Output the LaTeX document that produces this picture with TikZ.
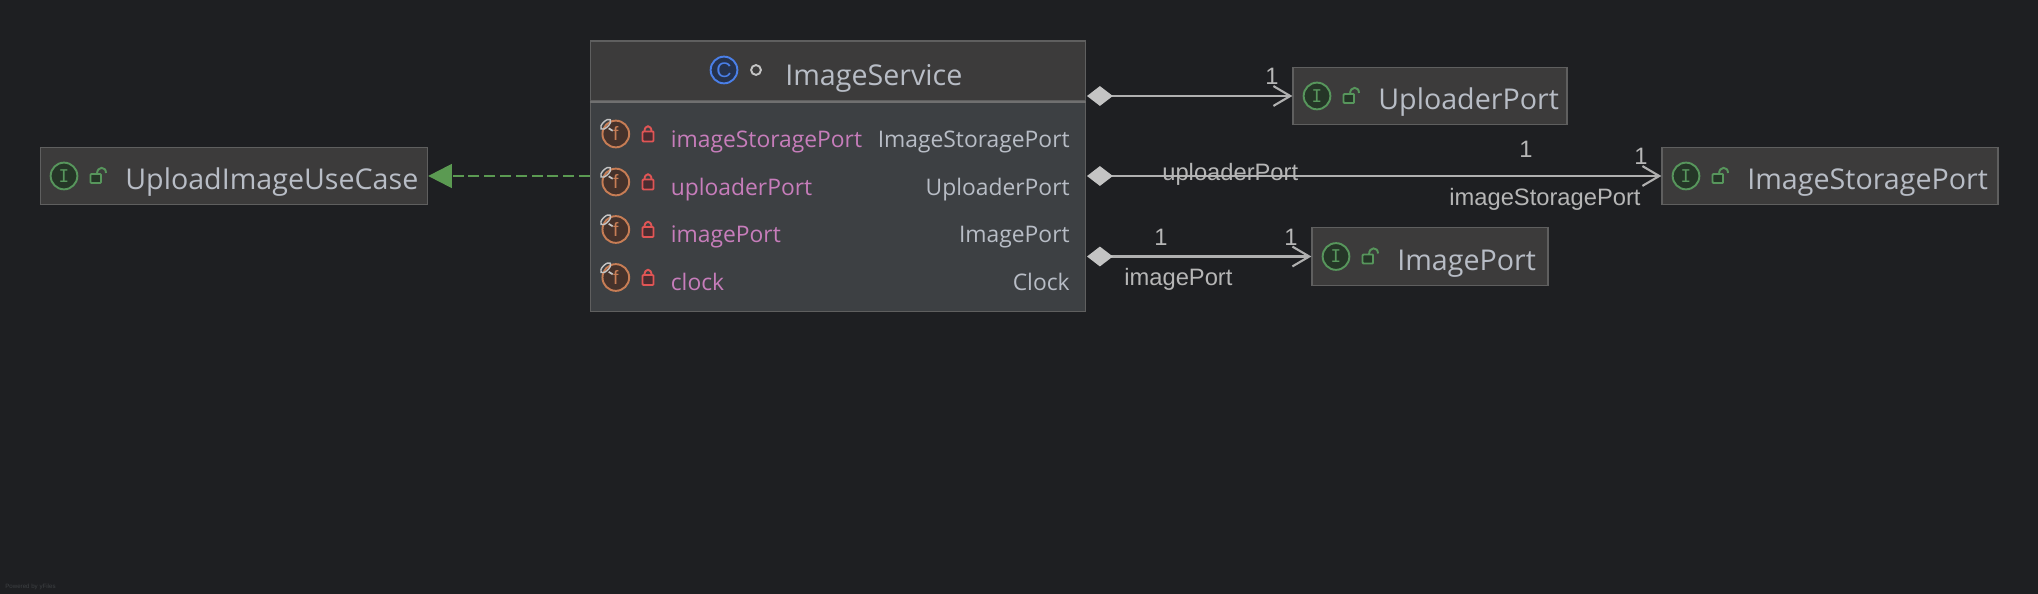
\documentclass[tikz,border=0pt]{standalone}
\usepackage{fontspec}
\usetikzlibrary{arrows.meta}
\usetikzlibrary{positioning}
\newfontfamily\uifont{Open Sans}
\newfontfamily\edgefont{Liberation Sans}
\newfontfamily\iconfont{DejaVu Sans Mono}
\definecolor{canvas}{HTML}{1E1F22}
\definecolor{headfill}{HTML}{3C3B3B}
\definecolor{bodyfill}{HTML}{3D4043}
\definecolor{boxline}{HTML}{5F5F5F}
\definecolor{dividerline}{HTML}{707070}
\definecolor{nametext}{HTML}{B8BDC6}
\definecolor{fieldtext}{HTML}{C77DBB}
\definecolor{edgeline}{HTML}{B0B0B0}
\definecolor{edgetext}{HTML}{B6B6B6}
\definecolor{tipfill}{HTML}{C4C4C4}
\definecolor{implgreen}{HTML}{5B9A52}
\definecolor{ifacegreen}{HTML}{57965C}
\definecolor{ifacefill}{HTML}{253627}
\definecolor{classblue}{HTML}{4A7FE8}
\definecolor{classfill}{HTML}{25324D}
\definecolor{fieldorange}{HTML}{C77D55}
\definecolor{fieldfill}{HTML}{45322B}
\definecolor{lockred}{HTML}{E05555}
\definecolor{lockfill}{HTML}{4A2C30}
\tikzstyle{classbox}=[rectangle,draw=boxline,line width=0.75pt,inner sep=0pt]
\tikzstyle{portname}=[anchor=base west,inner sep=0pt,text=nametext,font=\uifont\fontsize{16.3}{20}\selectfont]
\tikzstyle{rowtext}=[inner sep=0pt,font=\uifont\fontsize{13}{15}\selectfont]
\tikzstyle{edgelabel}=[inner sep=0pt,text=edgetext,font=\edgefont\fontsize{13.5}{16}\selectfont]
\tikzstyle{roundicon}=[circle,minimum size=15.2pt,inner sep=0pt,line width=1.1pt]
\tikzstyle{owned}=[draw=edgeline,line width=1.2pt,{Diamond[length=14.7pt,width=11.3pt,fill=tipfill,color=tipfill]}-{Straight Barb[length=9.6pt,width=11.3pt,line width=1.2pt]}]
\tikzset{
  lockshut/.pic={
    \draw[lockred,line width=1.1pt] (-3.5,-2.5) .. controls (-3.5,-9.5) and (3.5,-9.5) .. (3.5,-2.5);
    \draw[lockred,fill=lockfill,line width=1.1pt,rounded corners=0.5pt] (-5.5,-2.5) rectangle (5.5,7.5);
  },
  lockopen/.pic={
    \draw[ifacegreen,line width=1.1pt] (-1,-2) .. controls (-1,-10) and (8,-10) .. (8,-3);
    \draw[ifacegreen,fill=ifacefill,line width=1.1pt,rounded corners=0.5pt] (-7.5,-2) rectangle (3,7);
  },
  fieldleash/.pic={
    \draw[tipfill,line width=0.8pt,rotate=45] (0,0) ellipse [x radius=6.5,y radius=3];
    \draw[tipfill,line width=1pt] (3,4) -- (7,6.5);
  }
}

\begin{document}
\begin{tikzpicture}[x=0.02cm,y=-0.02cm]

  \def\u{0.02};
  \fill[canvas] (0,0) rectangle (2038,594);

  % the class
  \node[classbox,fill=headfill,minimum width=495*\u cm,minimum height=60*\u cm] (serviceHead) at (838,71) {};
  \node[classbox,fill=bodyfill,minimum width=495*\u cm,minimum height=210.5*\u cm] (serviceBody) at (838,206.25) {};
  \draw[dividerline,line width=1.1pt] (serviceHead.south west) -- (serviceHead.south east);
  \node[roundicon,draw=classblue,fill=classfill,text=classblue,font=\edgefont\fontsize{12}{12}\selectfont] (serviceIcon) at (724,70) {C};
  \node[circle,draw=tipfill,line width=1.1pt,minimum size=5.6pt,inner sep=0pt] (serviceDot) at (756,70) {};
  \node[portname] (serviceTitle) at (785,85.5) {ImageService};

  \foreach \y/\name/\type in {147.5/imageStoragePort/ImageStoragePort, 195.5/uploaderPort/UploaderPort, 243/imagePort/ImagePort, 291/clock/Clock}
  {
    \node[roundicon,draw=fieldorange,fill=fieldfill,text=fieldorange,font=\edgefont\fontsize{11}{12}\selectfont] (\name Icon) at (615.8,\y-13.5) {f};
    \pic at (605.7,\y-23.2) {fieldleash};
    \pic at (648,\y-13.5) {lockshut};
    \node[rowtext,anchor=base west,text=fieldtext] (\name Field) at (670.5,\y) {\name};
    \node[rowtext,anchor=base east,text=nametext] (\name Type) at (1070,\y) {\type};
  }

  % the interfaces
  \foreach \x/\y/\w/\h/\ix/\tx/\name/\label in {
      234/176/387/57/64/125/uploadImageUseCase/UploadImageUseCase,
      1430/96/274/57/1317/1378/uploaderNode/UploaderPort,
      1830/176/336/57/1686/1747/storageNode/ImageStoragePort,
      1430/256.5/236/58/1336/1397/imageNode/ImagePort}
  {
    \node[classbox,fill=headfill,minimum width=\w*\u cm,minimum height=\h*\u cm] (\name) at (\x,\y) {};
    \node[roundicon,draw=ifacegreen,fill=ifacefill,text=ifacegreen,font=\iconfont\fontsize{10}{12}\selectfont] (\name Icon) at (\ix,\y) {I};
    \pic at (\ix+34,\y) {lockopen};
    \node[portname] (\name Text) at (\tx,\y+14) {\label};
  }

  \coordinate (uploaderStart) at (1087,96);
  \coordinate (storageStart) at (1087,176);
  \coordinate (imageStart) at (1087,256.5);
  \coordinate (implStart) at (590,176);

  \foreach \source/\dest in {uploaderStart/uploaderNode, storageStart/storageNode, imageStart/imageNode}
    \draw[owned] (\source) -- (\dest);

  \draw[implgreen,line width=1pt,dash pattern=on 6.2pt off 2.8pt,-{Triangle[length=13.5pt,width=13.6pt,fill=implgreen]}] (implStart) -- (uploadImageUseCase);

  % edge labels
  \foreach \x/\y/\name/\label in {1162/181/uploaderRole/uploaderPort, 1449/206/storageRole/imageStoragePort, 1124/286/imageRole/imagePort}
    \node[edgelabel,anchor=base west] (\name) at (\x,\y) {\label};

  \foreach \x/\y/\name in {1272/85/uploaderOne, 1526/158/storageOneA, 1641/165/storageOneB, 1161/246/imageOneA, 1291/246/imageOneB}
    \node[edgelabel,anchor=base] (\name) at (\x,\y) {1};

  \node[anchor=base west,inner sep=0pt,text=bodyfill,font=\edgefont\fontsize{3.5}{4}\selectfont] (poweredBy) at (5,588) {Powered by yFiles};

\end{tikzpicture}
\end{document}
